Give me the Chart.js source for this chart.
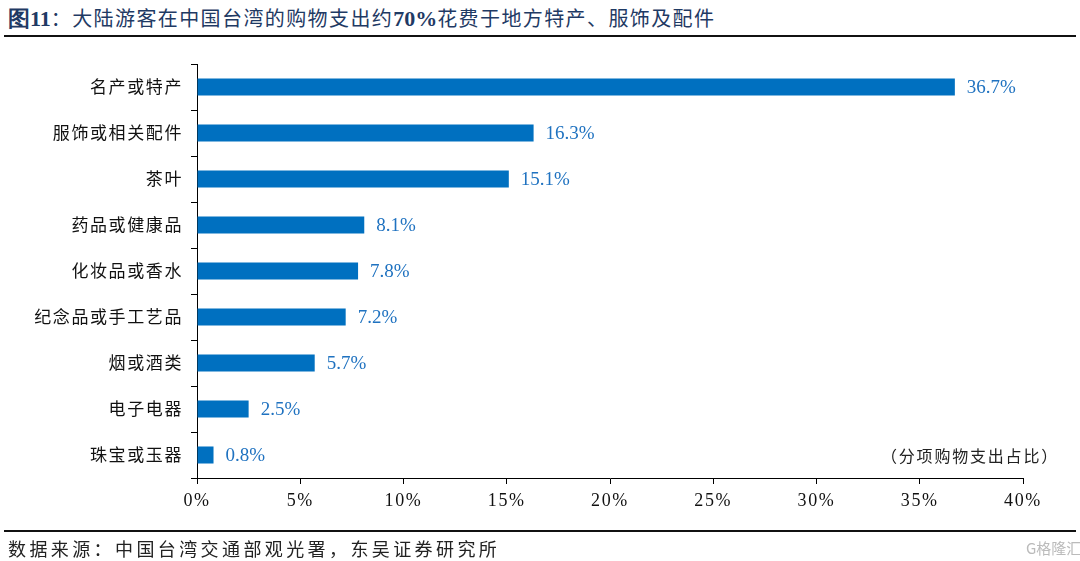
<!DOCTYPE html>
<html>
<head>
<meta charset="utf-8">
<script src="https://cdn.jsdelivr.net/npm/chart.js@4"></script>
<style>
  html, body { margin: 0; padding: 0; background: #fff; }
  body { width: 1080px; height: 561px; position: relative; overflow: hidden; }
  #chart { position: absolute; left: 0; top: 0; }
  .title { position: absolute; left: 8px; top: 3px; font: 20px "Noto Sans CJK SC", sans-serif; color: #1f3a64; letter-spacing: 1.4px; white-space: nowrap; }
  .title b, .title .num { font-family: "Liberation Serif", serif; font-weight: bold; font-size: 22px; letter-spacing: 0; }
  .rule { position: absolute; left: 4px; right: 4px; height: 2px; background: #111; }
  .source { position: absolute; left: 8px; top: 535px; font: 18px "Noto Sans CJK SC", sans-serif; color: #222; letter-spacing: 3.4px; white-space: nowrap; }
  .note { position: absolute; left: 881px; top: 443px; font: 16px "Noto Sans CJK SC", sans-serif; color: #222; letter-spacing: 1.8px; white-space: nowrap; }
  .mark { position: absolute; left: 1026px; top: 537px; font: 15px "Noto Sans CJK SC", sans-serif; color: #bbb; white-space: nowrap; }
</style>
</head>
<body>
<div class="title"><b>图11</b>：大陆游客在中国台湾的购物支出约<span class="num">70%</span>花费于地方特产、服饰及配件</div>
<div class="rule" style="top:35px"></div>
<canvas id="chart" width="1080" height="561"></canvas>
<div class="note">（分项购物支出占比）</div>
<div class="rule" style="top:530px"></div>
<div class="source">数据来源：中国台湾交通部观光署，东吴证券研究所</div>
<div class="mark">G格隆汇</div>
<script>
const categories = ['名产或特产', '服饰或相关配件', '茶叶', '药品或健康品', '化妆品或香水', '纪念品或手工艺品', '烟或酒类', '电子电器', '珠宝或玉器'];
const shares = [36.7, 16.3, 15.1, 8.1, 7.8, 7.2, 5.7, 2.5, 0.8];
const xTicks = [0, 5, 10, 15, 20, 25, 30, 35, 40];

// widen the CJK category labels a little, like the original's spaced type
const spacing = {
  id: 'spacing',
  beforeDraw(chart) { chart.ctx.letterSpacing = '1.6px'; },
  afterDraw(chart) { chart.ctx.letterSpacing = '0px'; }
};

const barLabels = {
  id: 'barLabels',
  afterDatasetsDraw(chart) {
    const ctx = chart.ctx;
    const meta = chart.getDatasetMeta(0);
    ctx.save();
    ctx.letterSpacing = '0px';
    ctx.font = '19px "Liberation Serif", serif';
    ctx.fillStyle = '#1f72c0';
    ctx.textAlign = 'left';
    ctx.textBaseline = 'middle';
    meta.data.forEach((bar, i) => {
      ctx.fillText(shares[i].toFixed(1) + '%', bar.x + 12, bar.y + 1);
    });
    ctx.restore();
  }
};

new Chart(document.getElementById('chart'), {
  type: 'bar',
  data: {
    labels: categories,
    datasets: [{
      data: shares,
      backgroundColor: '#0070c0',
      barPercentage: 0.37,
      categoryPercentage: 1
    }]
  },
  plugins: [spacing, barLabels],
  options: {
    indexAxis: 'y',
    responsive: false,
    animation: false,
    layout: { padding: { top: 64, right: 57, left: 0, bottom: 0 } },
    plugins: { legend: { display: false }, tooltip: { enabled: false } },
    scales: {
      x: {
        min: 0,
        max: 40,
        afterBuildTicks: (scale) => { scale.ticks = xTicks.map((v) => ({ value: v })); },
        afterFit: (scale) => { scale.height = 83; },
        grid: { drawOnChartArea: false, color: '#000', tickLength: 6 },
        border: { color: '#000', width: 1 },
        ticks: {
          color: '#111',
          padding: 6,
          font: { family: '"Liberation Serif", serif', size: 18 },
          callback: (v) => v + '%'
        }
      },
      y: {
        afterFit: (scale) => { scale.width = 197; },
        grid: { drawOnChartArea: false, color: '#000', tickLength: 6, offset: true },
        border: { color: '#000', width: 1 },
        ticks: {
          color: '#111',
          padding: 8,
          font: { family: '"Noto Sans CJK SC", sans-serif', size: 17 }
        }
      }
    }
  }
});
</script>
</body>
</html>
